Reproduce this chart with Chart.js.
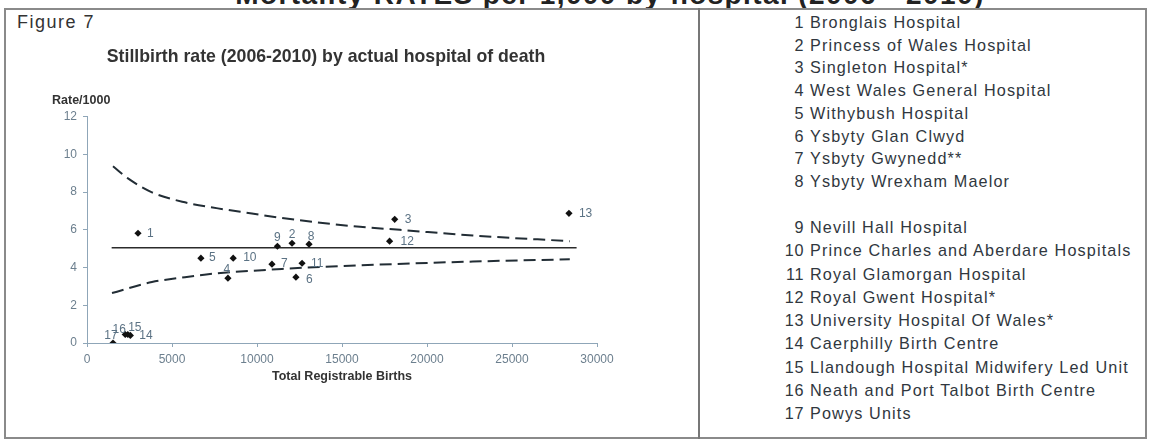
<!DOCTYPE html>
<html>
<head>
<meta charset="utf-8">
<script src="https://cdn.jsdelivr.net/npm/chart.js@4.4.1/dist/chart.umd.min.js"></script>
<style>
    body { margin: 0; background: #fff; width: 1150px; height: 440px; overflow: hidden; position: relative;
           font-family: "Liberation Sans", Arial, sans-serif; }
    #topTitle { position: absolute; left: 0; width: 1220px; top: -19px; line-height: 28px; text-align: center;
                font-weight: bold; font-size: 28px; letter-spacing: 1.4px; color: #222; white-space: nowrap; }
    #box { position: absolute; left: 4px; top: 8px; width: 1139px; height: 427px; border: 2px solid #8a8a8a; }
    #divider { position: absolute; left: 698px; top: 8px; width: 2px; height: 431px; background: #777; }
    #figLabel { position: absolute; left: 17px; top: 13px; font-size: 18px; line-height: 18px;
                letter-spacing: 1.5px; color: #333; }
    #chartWrap { position: absolute; left: 0; top: 0; width: 699px; height: 440px; }
    .row { position: absolute; left: 775px; font-size: 16.2px; line-height: 20px; letter-spacing: 1.15px;
           color: #30373e; white-space: nowrap; }
    .row .num { display: inline-block; width: 29px; text-align: right; letter-spacing: 0.6px; }
    .row .name { margin-left: 6px; }
</style>
</head>
<body>
<div id="topTitle">Mortality RATES per 1,000 by hospital (2006 - 2010)</div>
<div id="box"></div>
<div id="divider"></div>
<div id="figLabel">Figure 7</div>
<div id="chartWrap"><canvas id="chart"></canvas></div>
<div id="legendList"></div>

<script>
// hospitals, numbered as in the key on the right
const hospitalIds = [1, 2, 3, 4, 5, 6, 7, 8, 9, 10, 11, 12, 13, 14, 15, 16, 17];
const hospitalNames = [
    'Bronglais Hospital',
    'Princess of Wales Hospital',
    'Singleton Hospital*',
    'West Wales General Hospital',
    'Withybush Hospital',
    'Ysbyty Glan Clwyd',
    'Ysbyty Gwynedd**',
    'Ysbyty Wrexham Maelor',
    'Nevill Hall Hospital',
    'Prince Charles and Aberdare Hospitals',
    'Royal Glamorgan Hospital',
    'Royal Gwent Hospital*',
    'University Hospital Of Wales*',
    'Caerphilly Birth Centre',
    'Llandough Hospital Midwifery Led Unit',
    'Neath and Port Talbot Birth Centre',
    'Powys Units'
];
const births = [3000, 12060, 18100, 8290, 6700, 12290, 10880, 13060, 11200, 8600, 12650, 17800, 28350, 2550, 2400, 2250, 1530];
const rates = [5.82, 5.29, 6.56, 3.44, 4.5, 3.49, 4.18, 5.24, 5.13, 4.5, 4.23, 5.4, 6.88, 0.4, 0.45, 0.45, 0.0];

// overall rate and the funnel limits
const meanX = [1450, 28800];
const meanY = [5.05, 5.05];
const upperX = [1530, 2410, 3820, 5760, 7700, 9700, 11470, 16060, 18410, 22700, 28400];
const upperY = [9.37, 8.73, 7.99, 7.46, 7.14, 6.87, 6.63, 6.16, 6.0, 5.7, 5.4];
const lowerX = [1470, 3820, 5760, 7700, 10290, 11470, 16060, 22700, 28400];
const lowerY = [2.65, 3.23, 3.49, 3.7, 3.86, 3.93, 4.12, 4.32, 4.44];

const xTicks = [0, 5000, 10000, 15000, 20000, 25000, 30000];
const yTicks = [0, 2, 4, 6, 8, 10, 12];

// where each number sits next to its diamond: [dx, dy, align]
const labelOffsets = [
    [9, 0, 'left'], [0, -9, 'center'], [10, 0, 'left'], [-1, -8, 'center'], [8, 0, 'left'],
    [10, 2, 'left'], [9, 0, 'left'], [2, -8, 'center'], [0, -9, 'center'], [10, 0, 'left'],
    [9, 0, 'left'], [11, 1, 'left'], [10, 0, 'left'], [9, 0, 'left'], [7, -7, 'center'],
    [-6, -5, 'center'], [-2, -7, 'center']
];

// key on the right
const list = document.getElementById('legendList');
hospitalIds.forEach((id, i) => {
    const row = document.createElement('div');
    row.className = 'row';
    const centre = i < 8 ? 22 + i * 22.7 : 227 + (i - 8) * 23.25;
    row.style.top = (centre - 10) + 'px';
    row.innerHTML = `<span class="num">${id}</span><span class="name">${hospitalNames[i]}</span>`;
    list.appendChild(row);
});

const FONT = '"Liberation Sans", Arial, sans-serif';
const axisColor = '#8fa6b8';
const tickColor = '#6c7f8e';

const pointLabels = {
    id: 'pointLabels',
    afterDatasetsDraw(chart) {
        const ctx = chart.ctx;
        const meta = chart.getDatasetMeta(0);
        ctx.save();
        ctx.font = '12px ' + FONT;
        ctx.fillStyle = '#5b7284';
        ctx.textBaseline = 'middle';
        meta.data.forEach((pt, i) => {
            const [dx, dy, align] = labelOffsets[i];
            ctx.textAlign = align;
            ctx.fillText(String(hospitalIds[i]), pt.x + dx, pt.y + dy);
        });
        // y axis caption sits above the axis, horizontal
        const area = chart.chartArea;
        ctx.font = 'bold 12.5px ' + FONT;
        ctx.fillStyle = '#333';
        ctx.textAlign = 'left';
        ctx.fillText('Rate/1000', area.left - 35, area.top - 16.5);
        ctx.restore();
    }
};

function toPoints(xs, ys) {
    return xs.map((x, i) => ({ x: x, y: ys[i] }));
}

const limitStyle = {
    showLine: true,
    borderColor: '#222d35',
    borderWidth: 2,
    borderDash: [12, 6],
    pointRadius: 0,
    cubicInterpolationMode: 'monotone',
    fill: false
};

new Chart(document.getElementById('chart'), {
    type: 'scatter',
    data: {
        datasets: [
            {
                label: 'Hospitals',
                data: toPoints(births, rates),
                pointStyle: 'rectRot',
                pointRadius: 3.6,
                backgroundColor: '#111',
                borderColor: '#111',
                borderWidth: 0
            },
            {
                label: 'Mean',
                data: toPoints(meanX, meanY),
                showLine: true,
                borderColor: '#2b2b2b',
                borderWidth: 1.5,
                pointRadius: 0
            },
            Object.assign({ label: 'Upper limit', data: toPoints(upperX, upperY) }, limitStyle),
            Object.assign({ label: 'Lower limit', data: toPoints(lowerX, lowerY) }, limitStyle)
        ]
    },
    options: {
        responsive: true,
        maintainAspectRatio: false,
        animation: false,
        layout: { padding: { left: 55, right: 102, top: 0, bottom: 53 } },
        plugins: {
            legend: { display: false },
            tooltip: { enabled: false },
            title: {
                display: true,
                text: 'Stillbirth rate (2006-2010) by actual hospital of death',
                color: '#333',
                font: { family: FONT, size: 17.7, weight: 'bold' },
                padding: { top: 46, bottom: 49.5 }
            }
        },
        scales: {
            x: {
                type: 'linear',
                min: 0,
                max: 30000,
                afterBuildTicks: s => { s.ticks = xTicks.map(v => ({ value: v })); },
                afterFit: s => { s.height = 44; },
                ticks: { color: tickColor, font: { family: FONT, size: 12 }, padding: 5, callback: v => String(v) },
                grid: { drawOnChartArea: false, tickLength: 4, color: axisColor },
                border: { color: axisColor, width: 1 },
                title: {
                    display: true,
                    text: 'Total Registrable Births',
                    color: '#333',
                    font: { family: FONT, size: 12.5, weight: 'bold' },
                    padding: { top: 0, bottom: 3 }
                }
            },
            y: {
                type: 'linear',
                min: 0,
                max: 12,
                afterBuildTicks: s => { s.ticks = yTicks.map(v => ({ value: v })); },
                afterFit: s => { s.width = 32; },
                ticks: { color: tickColor, font: { family: FONT, size: 12 }, padding: 6, callback: v => String(v) },
                grid: { drawOnChartArea: false, tickLength: 4, color: axisColor },
                border: { color: axisColor, width: 1 }
            }
        }
    },
    plugins: [pointLabels]
});
</script>
</body>
</html>
